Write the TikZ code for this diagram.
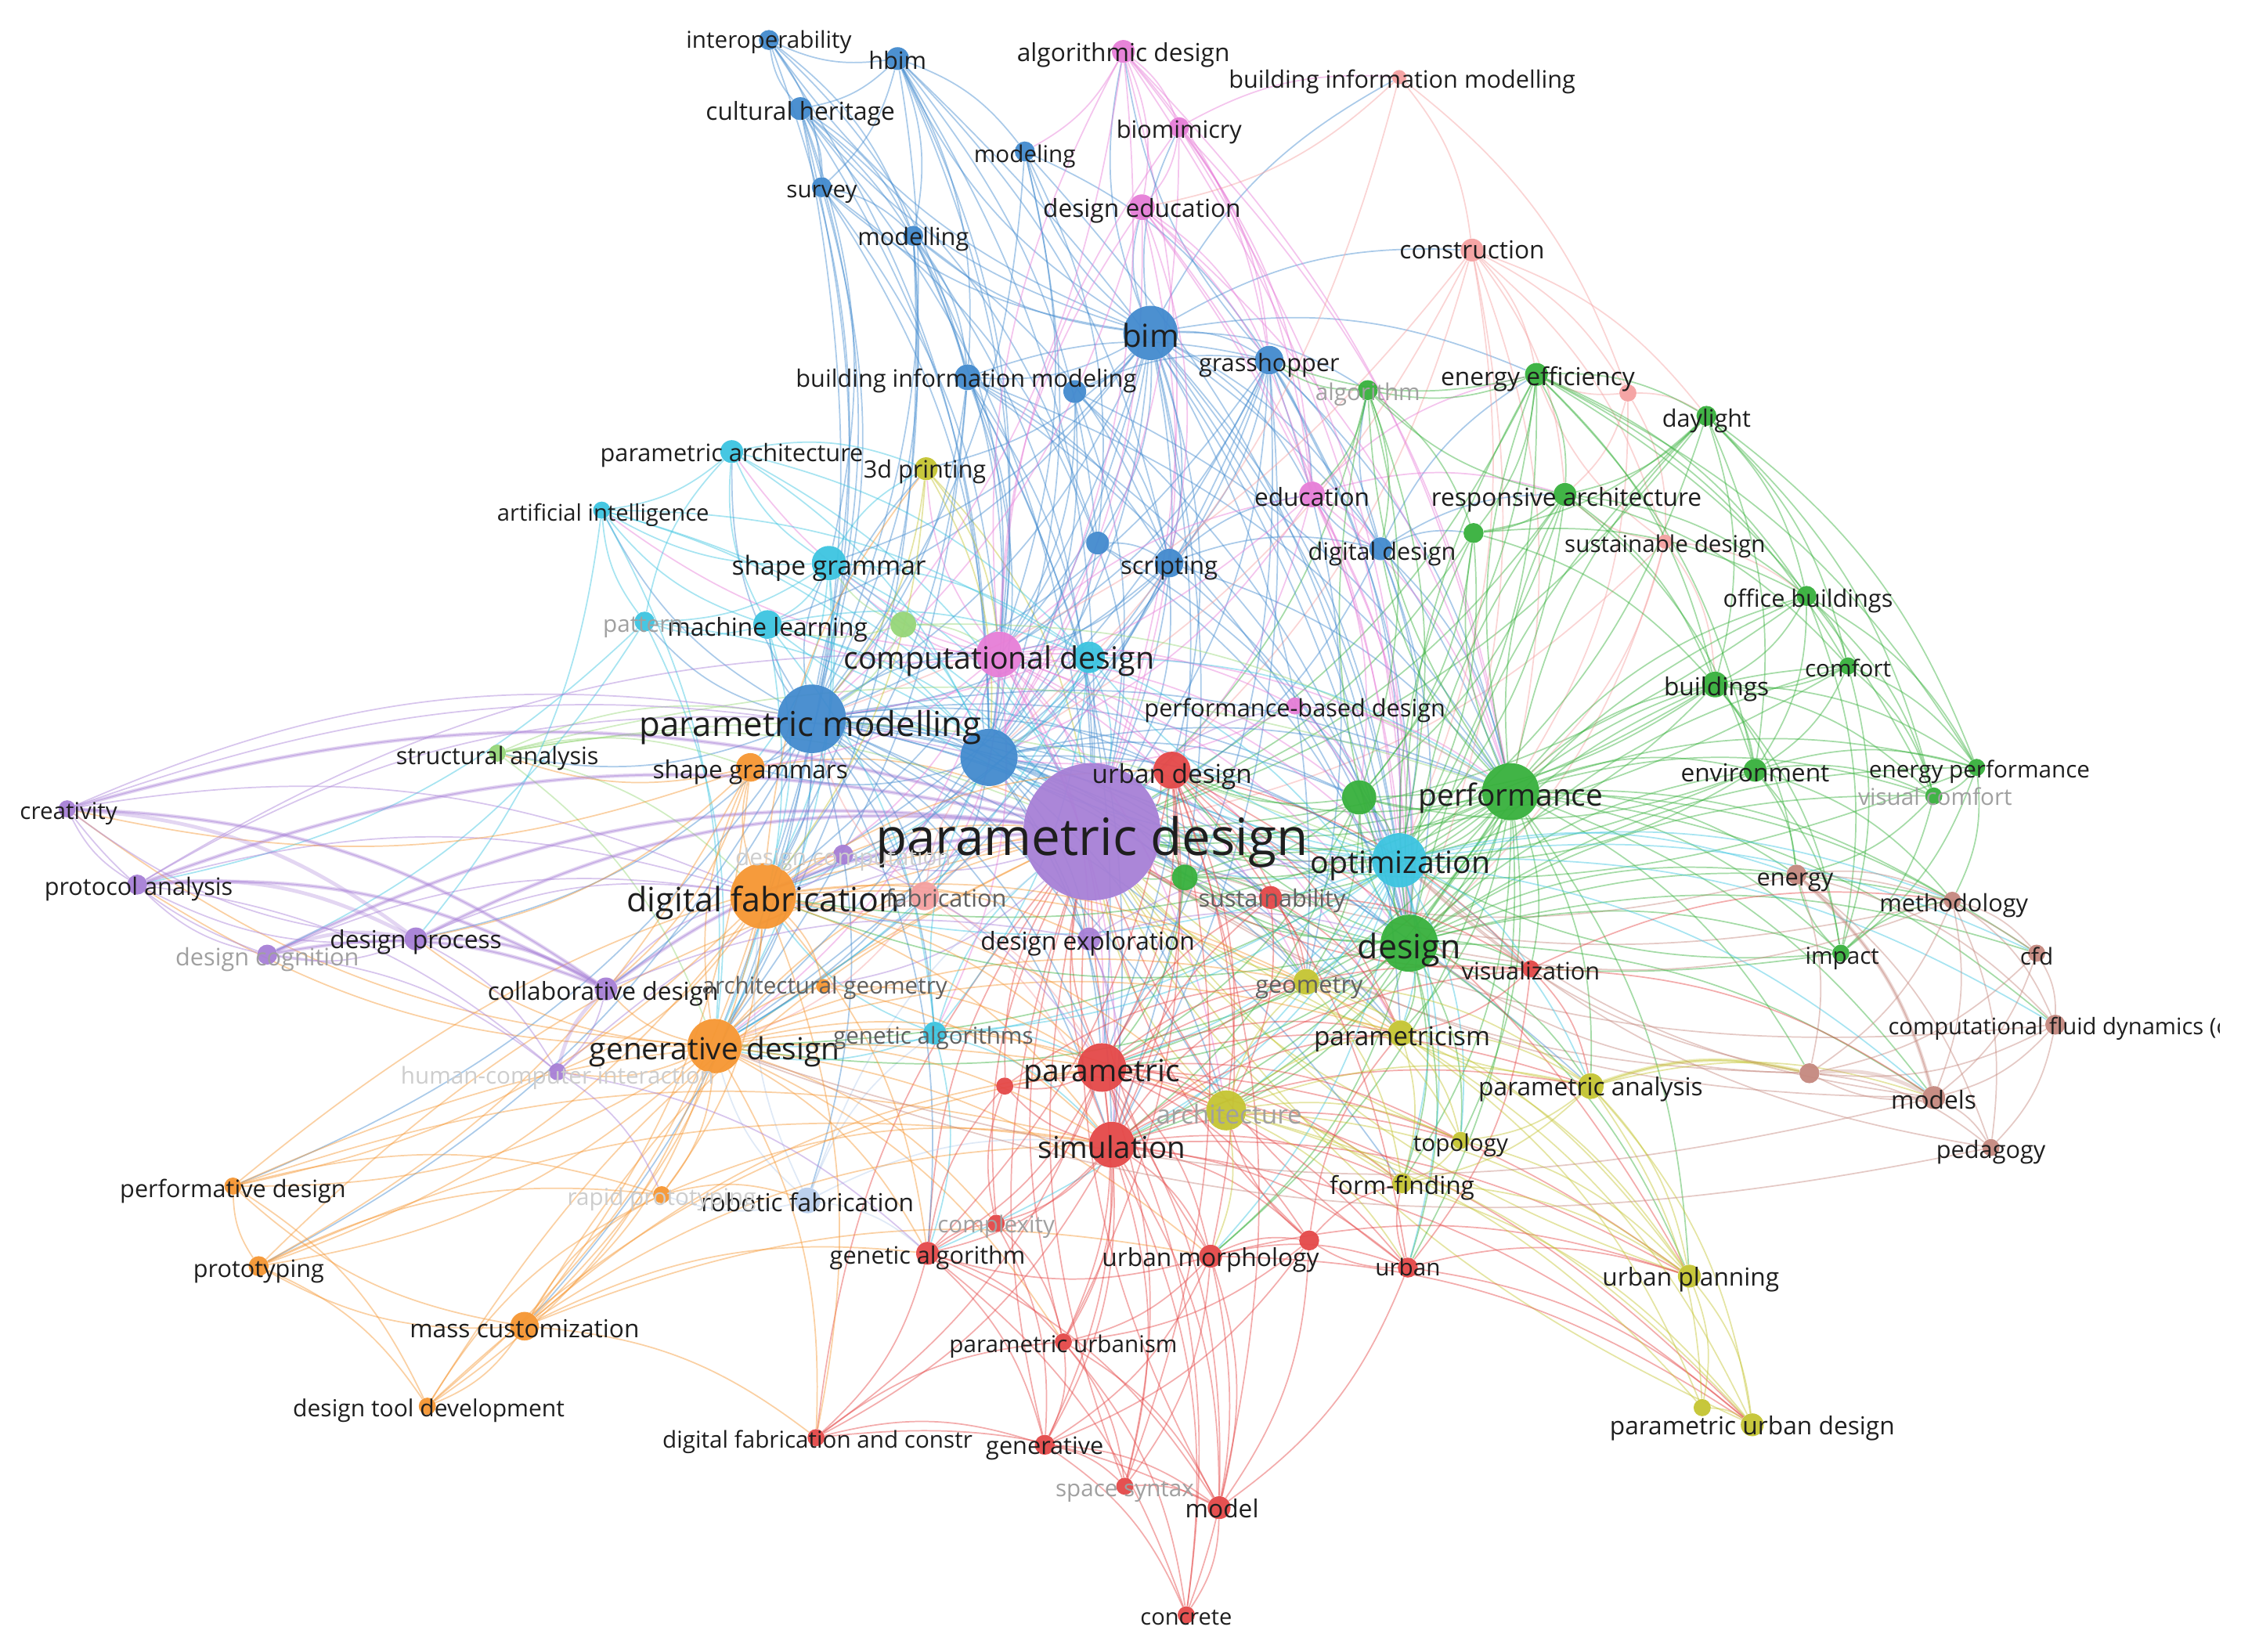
\documentclass[tikz,border=0pt]{standalone}
\usepackage{fontspec}
\setmainfont{Open Sans}
\pgfdeclarelayer{bg}
\pgfsetlayers{bg,main}
\definecolor{cpur}{RGB}{167,127,214}
\definecolor{cblu}{RGB}{66,138,206}
\definecolor{cpin}{RGB}{230,125,215}
\definecolor{csal}{RGB}{244,160,160}
\definecolor{cgrn}{RGB}{55,176,60}
\definecolor{ccya}{RGB}{60,196,224}
\definecolor{cora}{RGB}{245,150,50}
\definecolor{cred}{RGB}{228,72,72}
\definecolor{coli}{RGB}{196,196,50}
\definecolor{cbro}{RGB}{196,136,126}
\definecolor{clbl}{RGB}{184,206,236}
\definecolor{clgr}{RGB}{150,214,120}
\definecolor{tk}{RGB}{30,30,30}
\definecolor{tm}{RGB}{95,95,95}
\definecolor{tf}{RGB}{160,160,160}
\definecolor{tff}{RGB}{205,205,205}

\def\NL{pd/764/582/48/cpur,pm/568/503/24/cblu,bu/692/530/20/cblu,bim/805/233/19/cblu,cd/699/458/16/cpin,df/534/627/23/cora,gd/500/732/19/cora,perf/1057/554/20/cgrn,des/986/660/20/cgrn,opt/979/602/19/ccya,g1/951/558/12/cgrn,g2/829/614/9/cgrn,ud/820/539/13/cred,par/771/747/17/cred,sim/778/801/16/cred,arch/858/777/14/coli,sg/580/394/12/ccya,scr/818/394/10/cblu,gh/888/252/10/cblu,bimg/677/264/9/cblu,b1/752/274/8/cblu,b2/768/380/8/cblu,c1/762/460/11/ccya,ml/537/437/10/ccya,pat/451/435/7/ccya,g3/632/437/9/clgr,parc/512/316/8/ccya,ai/421/357/6/ccya,tdp/648/328/8/coli,iop/538/28/7/cblu,hbim/628/41/8/cblu,ch/560/76/8/cblu,sur/575/131/7/cblu,mdl/639/165/7/cblu,mdg/717/106/7/cblu,ald/786/36/8/cpin,bio/825/89/7/cpin,ded/799/145/9/cpin,bimo/979/54/5/csal,con/1030/175/8/csal,alg/957/273/7/cgrn,ee/1075/262/8/cgrn,s1/1139/275/6/csal,dl/1194/291/7/cgrn,edu/918/346/9/cpin,ra/1095/346/8/cgrn,dd/966/384/8/cblu,g4/1031/373/7/cgrn,sd/1165/379/5/csal,ob/1264/417/7/cgrn,cmf/1293/466/6/cgrn,bld/1200/479/9/cgrn,env/1228/539/8/cgrn,ep/1383/537/6/cgrn,vc/1353/557/6/cgrn,ene/1257/612/7/cbro,meth/1366/630/6/cbro,cfd/1425/667/6/cbro,imp/1288/667/6/cgrn,cfdl/1438/717/7/cbro,mod/1353/768/8/cbro,br1/1266/751/7/cbro,ped/1393/803/6/cbro,pcm/980/723/9/coli,geo/914/687/9/coli,sus/889/628/8/cred,vis/1071/678/6/cred,pa/1113/760/9/coli,top/1022/798/6/coli,ff/981/828/7/coli,up/1182/893/8/coli,urb/985/887/7/cred,r1/916/868/7/cred,um/847/879/8/cred,ga/649/877/8/cred,cpx/697/856/6/cred,r2/703/760/6/cred,gas/654/723/8/ccya,rf/565/840/9/clbl,rp/463/836/6/cora,hci/390/750/6/cpur,cld/424/692/8/cpur,dp/291/657/8/cpur,dc/187/668/7/cpur,pra/96/619/7/cpur,cre/47/566/6/cpur,sa/348/527/6/clgr,sgs/525/537/10/cora,dcm/590/598/7/cpur,fab/647/627/10/csal,dex/762/657/8/cpur,ag/576/690/5/cora,pbd/906/494/6/cpin,pfd/163/830/6/cora,pro/181/886/7/cora,mc/367/928/10/cora,dtd/299/984/6/cora,pu/744/939/6/cred,dfc/571/1006/6/cred,gen/731/1011/7/cred,ss/787/1040/6/cred,model/853/1055/8/cred,conc/830/1130/6/cred,pud/1226/997/8/coli,o1/1191/985/6/coli}

\def\LL{pd/parametric design/764/582/32.1/tk,pm/parametric modelling/567/504/21.4/tk,bim/bim/805/233/19.8/tk,cd/computational design/699/458/19.2/tk,df/digital fabrication/534/627/21/tk,gd/generative design/500/732/19/tk,perf/performance/1057/554/19/tk,des/design/986/660/21/tk,opt/optimization/980/601/19.2/tk,ud/urban design/820/540/16.3/tk,par/parametric/771/747/19.1/tk,sim/simulation/778/801/18.8/tk,arch/architecture/860/778/16.3/tf,sg/shape grammar/580/394/16.4/tk,scr/scripting/818/394/15.2/tk,gh/grasshopper/888/252/15/tk,bimg/building information modeling/676/263/15/tk,ml/machine learning/537/437/15.5/tk,pat/pattern/450/435/14.5/tf,parc/parametric architecture/512/315/15/tk,ai/artificial intelligence/422/357/14.3/tk,tdp/3d printing/647/327/15/tk,iop/interoperability/538/26/14.5/tk,hbim/hbim/628/41/15/tk,ch/cultural heritage/560/76/15.5/tk,sur/survey/575/131/14.5/tk,mdl/modelling/639/164/15/tk,mdg/modeling/717/106/14.5/tk,ald/algorithmic design/786/35/15.5/tk,bio/biomimicry/825/89/15/tk,ded/design education/799/144/15.5/tk,bimo/building information modelling/981/54/15/tk,con/construction/1030/173/15.5/tk,alg/algorithm/957/273/14.5/tf,ee/energy efficiency/1076/262/15.5/tk,dl/daylight/1194/291/15/tk,edu/education/918/346/15.5/tk,ra/responsive architecture/1096/346/15.5/tk,dd/digital design/967/384/15/tk,sd/sustainable design/1165/379/14.5/tk,ob/office buildings/1265/417/15/tk,cmf/comfort/1293/466/14.5/tk,bld/buildings/1201/479/15.5/tk,env/environment/1228/539/15.5/tk,ep/energy performance/1385/537/14.5/tk,vc/visual comfort/1354/556/14.5/tf,ene/energy/1256/612/15/tk,meth/methodology/1367/630/15/tk,cfd/cfd/1425/668/14.5/tk,imp/impact/1289/667/14.5/tk,mod/models/1353/768/15.5/tk,ped/pedagogy/1393/803/15/tk,pcm/parametricism/981/723/16.3/tk,geo/geometry/916/687/15/tm,sus/sustainability/890/627/15/tm,vis/visualization/1071/678/15/tk,pa/parametric analysis/1113/759/15.5/tk,top/topology/1022/798/14.5/tk,ff/form-finding/981/828/15.5/tk,up/urban planning/1183/892/15.5/tk,urb/urban/985/885/14.5/tk,um/urban morphology/847/878/15.5/tk,ga/genetic algorithm/649/877/15/tk,cpx/complexity/697/855/14.5/tf,gas/genetic algorithms/653/723/14.5/tm,rf/robotic fabrication/565/840/15.5/tk,rp/rapid prototyping/463/836/14.5/tff,hci/human-computer interaction/390/751/14.5/tff,cld/collaborative design/422/692/15.5/tk,dp/design process/291/656/15.5/tk,dc/design cognition/187/668/15/tf,pra/protocol analysis/97/619/15/tk,cre/creativity/48/566/14.5/tk,sa/structural analysis/348/527/15/tk,sgs/shape grammars/525/537/15.5/tk,dcm/design computation/590/598/14.5/tff,fab/fabrication/662/627/15/tm,dex/design exploration/761/657/15.5/tk,ag/architectural geometry/577/688/14.5/tm,pbd/performance-based design/906/494/15/tk,pfd/performative design/163/830/15/tk,pro/prototyping/181/886/15/tk,mc/mass customization/367/928/15.5/tk,dtd/design tool development/300/984/14.7/tk,pu/parametric urbanism/744/939/14.5/tk,dfc/digital fabrication and constr/572/1006/14.5/tk,gen/generative/731/1010/15/tk,ss/space syntax/787/1040/14.5/tf,model/model/855/1054/15.5/tk,conc/concrete/830/1130/14.2/tk,pud/parametric urban design/1226/996/15.5/tk}

\def\EA{dp/pd,cld/pd,dc/pd,pra/pd,cre/pd,hci/pd,pd/dex,pd/dcm,pd/pbd,pd/ag,
pm/pd,bu/pd,bim/pd,cd/pd,df/pd,gd/pd,perf/pd,des/pd,opt/pd,g1/pd,g2/pd,ud/pd,par/pd,sim/pd,arch/pd,sg/pd,scr/pd,gh/pd,bimg/pd,b1/pd,b2/pd,c1/pd,ml/pd,pat/pd,parc/pd,ai/pd,tdp/pd,hbim/pd,ch/pd,mdl/pd,ald/pd,ded/pd,con/pd,alg/pd,ee/pd,dl/pd,edu/pd,ra/pd,dd/pd,sd/pd,ob/pd,bld/pd,env/pd,ep/pd,ene/pd,meth/pd,cfdl/pd,mod/pd,pcm/pd,geo/pd,sus/pd,vis/pd,pa/pd,top/pd,ff/pd,up/pd,urb/pd,um/pd,ga/pd,gas/pd,rf/pd,sgs/pd,fab/pd,pfd/pd,pro/pd,mc/pd,dtd/pd,pu/pd,dfc/pd,gen/pd,model/pd,pud/pd,sa/pd,cpx/pd,r1/pd,r2/pd,imp/pd,g4/pd,cmf/pd,br1/pd,ss/pd}

\def\EB{bim/iop,bim/hbim,bim/ch,bim/sur,bim/mdl,bim/mdg,bim/bimg,bim/gh,bim/scr,bim/dd,bim/b1,bim/b2,bim/pm,bim/bu,bim/cd,bim/ald,bim/ded,bim/edu,bim/perf,bim/des,bim/opt,bim/con,bim/bimo,bim/ee,bim/df,bim/gd,bim/sim,bim/par,bim/tdp,bim/sg,bim/ml,bim/alg,bim/bio,bim/ud,bim/geo,bim/pcm,
hbim/iop,hbim/ch,hbim/sur,hbim/mdl,hbim/mdg,hbim/pm,hbim/bu,hbim/bimg,hbim/b2,hbim/scr,hbim/cd,hbim/des,
ch/iop,ch/sur,ch/mdl,ch/pm,ch/bu,ch/bimg,ch/sg,ch/b2,ch/df,ch/gd,
iop/pm,iop/bimg,iop/sur,iop/bu,iop/mdl,
sur/pm,sur/mdl,sur/bu,sur/b2,sur/cd,
mdl/pm,mdl/bimg,mdl/bu,mdl/cd,mdl/scr,mdl/df,mdl/gd,
mdg/pm,mdg/bu,mdg/gh,mdg/b2,mdg/cd,mdg/des,
bimg/pm,bimg/bu,bimg/cd,bimg/df,bimg/gh,bimg/scr,bimg/des,bimg/perf,bimg/opt,bimg/gd,bimg/sim,bimg/par,
gh/pm,gh/bu,gh/scr,gh/cd,gh/des,gh/perf,gh/opt,gh/dd,gh/edu,gh/ald,gh/sim,gh/par,gh/df,gh/gd,gh/geo,
scr/pm,scr/bu,scr/cd,scr/edu,scr/dd,scr/gd,scr/df,scr/des,scr/perf,
pm/bu,pm/cd,pm/df,pm/gd,pm/sg,pm/sgs,pm/ml,pm/pat,pm/parc,pm/ai,pm/tdp,pm/perf,pm/des,pm/opt,pm/par,pm/sim,pm/arch,pm/ud,pm/geo,pm/pcm,pm/gas,pm/rf,pm/fab,pm/sa,pm/dp,pm/cld,pm/mc,pm/pro,pm/pfd,pm/ga,pm/dex,pm/sus,pm/g2,pm/g1,pm/pa,pm/ff,
bu/cd,bu/df,bu/gd,bu/perf,bu/des,bu/opt,bu/ud,bu/par,bu/sim,bu/geo,bu/pcm,bu/arch,bu/sgs,bu/dex,bu/fab,bu/g1,bu/g2,bu/sus,
b1/cd,b1/bu,b1/des,b1/perf,b1/gh,b1/scr,b2/cd,b2/opt,b2/des,b2/bu,b2/scr,
dd/edu,dd/perf,dd/des,dd/ra,dd/g4,dd/opt,dd/alg,dd/ee,
rf/df,rf/gd,rf/ga,rf/sim,rf/rp,rf/gas}

\def\EC{cd/ald,cd/bio,cd/ded,cd/edu,cd/df,cd/gd,cd/perf,cd/des,cd/opt,cd/ud,cd/par,cd/sim,cd/arch,cd/sg,cd/ml,cd/c1,cd/geo,cd/pcm,cd/tdp,cd/ai,cd/parc,cd/dex,cd/sgs,cd/gas,cd/fab,cd/g1,cd/g3,cd/pbd,
ald/bio,ald/ded,ald/mdg,ald/gh,ald/edu,ald/perf,ald/des,ald/bu,ald/pm,
bio/ded,bio/gh,bio/bu,bio/perf,bio/des,bio/bimo,bio/edu,
ded/gh,ded/edu,ded/bu,ded/des,ded/perf,ded/opt,ded/pm,ded/scr,
edu/des,edu/perf,edu/opt,edu/dd,edu/ra,edu/ee,edu/bu,edu/pm,edu/g1,
pbd/perf,pbd/des,pbd/opt,pbd/bu}

\def\ED{bimo/con,bimo/bu,bimo/s1,bimo/ded,con/ee,con/s1,con/bu,con/perf,con/des,con/sd,con/dl,con/ra,con/pm,con/opt,s1/ee,s1/dl,s1/ra,s1/sd,s1/perf,sd/ee,sd/ra,sd/perf,sd/des,sd/ob,sd/bld,fab/df,fab/gd,fab/sim,fab/par,fab/pm,fab/bu}

\def\EE{perf/des,perf/opt,perf/g1,perf/g2,perf/ee,perf/dl,perf/ra,perf/g4,perf/ob,perf/cmf,perf/bld,perf/env,perf/ep,perf/vc,perf/ene,perf/meth,perf/imp,perf/cfdl,perf/mod,perf/sim,perf/par,perf/ud,perf/pcm,perf/geo,perf/pa,perf/arch,perf/alg,perf/dd,perf/gd,perf/df,perf/sus,perf/vis,perf/urb,perf/um,perf/up,perf/ff,perf/top,perf/cfd,perf/br1,
des/opt,des/g1,des/g2,des/ee,des/dl,des/ra,des/bld,des/env,des/ob,des/cmf,des/ene,des/imp,des/ep,des/vc,des/geo,des/pcm,des/arch,des/par,des/sim,des/ud,des/vis,des/pa,des/top,des/ff,des/urb,des/um,des/up,des/meth,des/mod,des/gd,des/df,des/alg,des/sus,des/cfd,des/g4,
ee/dl,ee/ra,ee/alg,ee/g4,ee/ob,ee/cmf,ee/bld,ee/env,ee/ep,ee/vc,ee/g1,ee/opt,ee/gh,
dl/ra,dl/ob,dl/cmf,dl/bld,dl/env,dl/ep,dl/vc,dl/opt,dl/g4,
ra/g4,ra/ob,ra/bld,ra/env,ra/alg,ra/g1,ra/opt,ra/cmf,
alg/g4,alg/opt,alg/g1,alg/dd,alg/gh,alg/edu,
g4/bld,g4/ob,g4/opt,g4/g1,
ob/cmf,ob/bld,ob/env,ob/ep,ob/vc,ob/imp,
cmf/bld,cmf/env,cmf/ep,cmf/vc,cmf/imp,
bld/env,bld/ep,bld/vc,bld/ene,bld/imp,bld/opt,bld/g1,
env/ep,env/vc,env/ene,env/imp,env/meth,env/opt,env/g1,
ep/vc,ep/imp,ep/meth,vc/imp,vc/ene,imp/ene,imp/opt,imp/meth,
g1/opt,g1/ud,g1/par,g1/sim,g1/geo,g1/g2,g2/opt,g2/sus,g2/geo,g2/ud,g2/par,
sa/df,sa/gd,sa/opt,sa/perf,sa/pm,sa/sgs,
g3/cd,g3/ml,g3/pm,g3/perf,g3/sg}

\def\EF{opt/sim,opt/par,opt/ud,opt/geo,opt/pcm,opt/pa,opt/arch,opt/gd,opt/df,opt/ga,opt/gas,opt/sg,opt/ml,opt/c1,opt/vis,opt/sus,opt/ene,opt/meth,opt/cfdl,opt/mod,opt/ff,opt/top,opt/um,opt/urb,opt/cfd,
sg/ml,sg/pat,sg/parc,sg/ai,sg/sgs,sg/c1,sg/gd,sg/df,sg/bu,sg/tdp,
ml/pat,ml/ai,ml/parc,ml/c1,ml/gd,ml/gas,ml/df,ml/bu,
pat/ai,pat/parc,pat/pra,pat/dc,pat/gd,
parc/ai,parc/c1,parc/tdp,parc/bu,
ai/c1,ai/gd,ai/dp,ai/bu,
c1/gas,c1/gd,c1/df,c1/bu,c1/perf,c1/des,
gas/gd,gas/ga,gas/sim,gas/par,gas/df,gas/bu}

\def\EG{df/gd,df/sgs,df/mc,df/pro,df/pfd,df/dtd,df/rp,df/ag,df/tdp,df/par,df/sim,df/arch,df/ud,df/geo,df/pcm,df/dfc,df/ga,dp/df,cld/df,dc/df,pra/df,cre/df,df/hci,df/dex,df/dcm,
gd/sgs,gd/mc,gd/pro,gd/pfd,gd/dtd,gd/rp,gd/ag,gd/par,gd/sim,gd/ga,gd/arch,gd/um,gd/pu,gd/dfc,gd/hci,gd/cld,gd/dp,gd/cre,gd/pra,gd/geo,gd/pcm,gd/cpx,
sgs/mc,sgs/dp,sgs/cld,sgs/cre,sgs/sa,sgs/pro,
mc/pro,mc/pfd,mc/dtd,mc/rp,mc/ga,mc/dfc,mc/par,mc/sim,mc/um,
pro/pfd,pro/dtd,pro/rp,pro/sim,pfd/dtd,pfd/rp,pfd/sim,pfd/par,dtd/rp,dtd/par,rp/rf,rp/sim,
ag/par,ag/sim}

\def\EH{dp/dc,dp/pra,dp/cre,dp/cld,dp/hci,dc/pra,dc/cre,dc/cld,dc/hci,pra/cre,pra/cld,pra/hci,cre/cld,cld/hci,cld/dex,dex/par,dex/sim,dex/opt,dex/des,hci/rp,hci/ga,dcm/df,dcm/par,cre/pm,pra/pm,cre/bu,pra/cd}

\def\EI{ud/par,ud/sim,ud/um,ud/urb,ud/pu,ud/up,ud/pcm,ud/arch,ud/geo,ud/vis,ud/ss,ud/model,ud/ga,
par/sim,par/arch,par/geo,par/pcm,par/pa,par/ga,par/cpx,par/r2,par/um,par/urb,par/r1,par/pu,par/dfc,par/gen,par/ss,par/model,par/conc,par/up,par/pud,par/ff,par/top,par/vis,par/sus,
sim/arch,sim/geo,sim/pcm,sim/pa,sim/ga,sim/cpx,sim/r2,sim/um,sim/urb,sim/r1,sim/pu,sim/dfc,sim/gen,sim/ss,sim/model,sim/conc,sim/up,sim/pud,sim/ff,sim/top,sim/vis,sim/sus,
um/pu,um/gen,um/ss,um/model,um/conc,um/urb,um/r1,um/up,um/pud,um/ga,
urb/r1,urb/up,urb/pud,urb/ff,urb/model,
r1/model,r1/gen,r1/pu,r1/ff,r1/pcm,r1/arch,
ga/cpx,ga/pu,ga/dfc,ga/gen,ga/model,ga/conc,ga/r2,
cpx/pu,cpx/gen,cpx/r2,pu/gen,pu/ss,pu/model,pu/conc,gen/ss,gen/model,gen/conc,ss/model,model/conc,dfc/gen,dfc/model,dfc/pu,
sus/geo,sus/pcm,sus/arch,sus/vis,vis/pa,vis/pcm,vis/mod,vis/meth,vis/urb,r2/arch,r2/geo}

\def\EJ{arch/geo,arch/pcm,arch/pa,arch/top,arch/ff,arch/up,arch/pud,arch/o1,arch/urb,arch/um,
geo/pcm,geo/pa,geo/top,geo/ff,geo/up,pcm/pa,pcm/top,pcm/ff,pcm/up,pcm/pud,pcm/o1,pa/top,pa/ff,pa/up,pa/pud,pa/br1,pa/o1,pa/mod,top/ff,top/up,ff/up,ff/pud,up/pud,up/o1,o1/pud,tdp/cd,tdp/pm,tdp/bu,tdp/df}

\def\EK{ene/meth,ene/cfd,ene/cfdl,ene/mod,ene/br1,ene/ped,meth/cfd,meth/cfdl,meth/mod,meth/br1,meth/ped,cfd/cfdl,cfd/mod,cfd/br1,cfdl/mod,cfdl/br1,cfdl/ped,mod/br1,mod/ped,br1/ped,br1/des,meth/des,ped/opt,mod/opt,br1/opt,ped/gd,mod/gd}

\def\ET{dc/cld,pra/cld,pra/dp,dc/dp,cre/dp,cre/cld,dp/cld,hci/cld,pa/br1,br1/mod,ene/mod,dp/pd,cld/pd,dc/pd,pra/pd,cre/pd}

\newcommand\kwedges[2]{\foreach \a/\b in #1 {\edef\ec{\csname kc\a\endcsname}\draw[#2,draw=\ec] (\a) to[bend left=16] (\b);}}

\begin{document}
\begin{tikzpicture}[x=1pt,y=-1pt,
  kn/.style={circle,inner sep=0pt,draw=none,fill opacity=0.95},
  lbl/.style={inner sep=0pt,anchor=base},
  edge/.style={line width=0.95pt,draw opacity=0.45},
  thk/.style={line width=2.6pt,draw opacity=0.32}]
\useasboundingbox (0,0) rectangle (1568,1156);
% keyword circles
\foreach \n/\x/\y/\r/\c in \NL {%
  \expandafter\xdef\csname kc\n\endcsname{\c}%
  \node[kn,fill=\c,minimum size=2*\r pt] (\n) at (\x,\y) {};
}
% labels
\begin{scope}
\clip (0,0) rectangle (1553,1156);
\foreach \n/\t/\lx/\ly/\s/\tc in \LL {%
  \pgfmathsetmacro\fs{\s*1.12}%
  \pgfmathsetmacro\yy{\ly+0.46*\fs}%
  \node[lbl,text=\tc,font=\fontsize{\fs}{\fs}\selectfont] (\n-t) at (\lx,\yy) {\t};
}
\node[lbl,anchor=base west,text=tk,font=\fontsize{16}{16}\selectfont] (cfdl-t) at (1321,724) {computational fluid dynamics (cfd)};
\end{scope}
% links
\begin{pgfonlayer}{bg}
\kwedges{\EA}{edge}
\kwedges{\EB}{edge}
\kwedges{\EC}{edge}
\kwedges{\ED}{edge}
\kwedges{\EE}{edge}
\kwedges{\EF}{edge}
\kwedges{\EG}{edge}
\kwedges{\EH}{edge}
\kwedges{\EI}{edge}
\kwedges{\EJ}{edge}
\kwedges{\EK}{edge}
\kwedges{\ET}{thk}
\end{pgfonlayer}
\end{tikzpicture}
\end{document}
